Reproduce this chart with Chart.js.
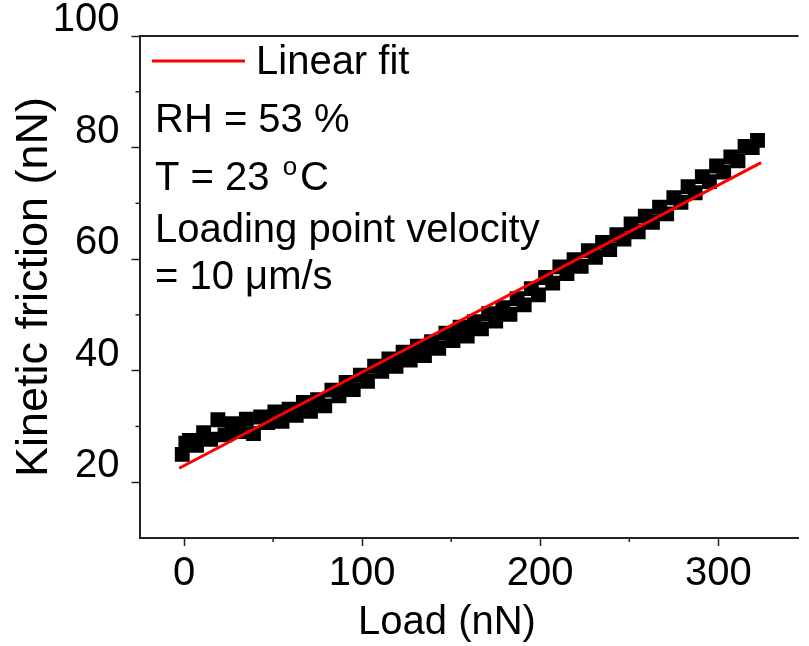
<!DOCTYPE html>
<html><head><meta charset="utf-8">
<script src="https://cdn.jsdelivr.net/npm/chart.js@4/dist/chart.umd.min.js"></script>
<style>html,body{margin:0;padding:0;background:#fff}#wrap{width:809px;height:646px;position:relative}</style>
</head><body><div id="wrap"><canvas id="c"></canvas></div>
<script>
// ---- data ----
const loadValues = [-1,1,3,7,11,15,19,23,27,31,35,39,43,47,51,55,59,63,67,71,75,79,83,87,91,95,99,103,107,111,115,119,123,127,131,135,139,143,147,151,155,159,163,167,171,175,179,183,187,191,195,199,203,207,211,215,219,223,227,231,235,239,243,247,251,255,259,263,267,271,275,279,283,287,291,295,299,303,307,311,315,319,322];
const frictionValues = [25.0,27.0,27.5,26.6,28.9,27.7,31.2,28.5,30.5,29.1,31.3,28.7,31.7,30.7,32.6,30.9,33.1,32.0,34.3,32.7,34.8,33.7,36.5,35.5,37.9,36.6,39.2,38.1,40.8,39.9,42.1,40.8,43.3,41.9,44.4,42.7,45.2,44.0,46.7,45.4,47.8,46.2,48.8,47.5,50.2,48.9,51.3,50.1,52.9,51.8,54.7,53.6,56.7,55.7,58.6,57.4,59.9,58.7,61.5,60.3,63.0,61.7,64.4,63.6,66.3,64.9,67.7,66.6,69.3,68.1,71.0,70.2,73.0,71.9,74.8,73.9,76.7,75.6,78.3,77.6,80.2,80.0,81.3];
const fitLoad = [-2.75, 324];
const fitFriction = [22.5, 77.3];
const xTickValues = [0, 100, 200, 300];
const xMinorValues = [50, 150, 250];
const yTickValues = [20, 40, 60, 80, 100];
const yMinorValues = [30, 50, 70, 90];
const xTitle = 'Load (nN)';
const yTitle = 'Kinetic friction (nN)';
const fitLabel = 'Linear fit';
const noteLines = ['RH = 53 %', 'T = 23 ', 'Loading point velocity', '= 10 μm/s'];

const FONT = "'Liberation Sans', Arial, sans-serif";
const AXIS_COLOR = '#222';

const extras = {
  id: 'extras',
  afterDraw(chart) {
    const ctx = chart.ctx, a = chart.chartArea;
    const xs = chart.scales.x, ys = chart.scales.y;
    ctx.save();
    ctx.strokeStyle = AXIS_COLOR; ctx.lineWidth = 2;
    // top frame line
    ctx.beginPath(); ctx.moveTo(a.left, a.top); ctx.lineTo(a.right, a.top); ctx.stroke();
    // minor ticks
    ctx.lineWidth = 1.5;
    xMinorValues.forEach(v => { const px = xs.getPixelForValue(v); ctx.beginPath(); ctx.moveTo(px, a.bottom); ctx.lineTo(px, a.bottom + 4); ctx.stroke(); });
    yMinorValues.forEach(v => { const py = ys.getPixelForValue(v); ctx.beginPath(); ctx.moveTo(a.left, py); ctx.lineTo(a.left - 4, py); ctx.stroke(); });
    // legend
    ctx.strokeStyle = '#ff0000'; ctx.lineWidth = 3;
    ctx.beginPath(); ctx.moveTo(152, 61); ctx.lineTo(245, 61); ctx.stroke();
    ctx.fillStyle = '#000'; ctx.font = '40px ' + FONT; ctx.textBaseline = 'alphabetic'; ctx.textAlign = 'left';
    ctx.fillText(fitLabel, 256, 74);
    // notes
    ctx.fillText(noteLines[0], 155, 132);
    ctx.fillText(noteLines[1], 155, 190);
    let w = ctx.measureText(noteLines[1]).width;
    ctx.font = '26px ' + FONT;
    ctx.fillText('o', 157 + w, 175);
    const wo = ctx.measureText('o').width;
    ctx.font = '40px ' + FONT;
    ctx.fillText('C', 157 + w + wo + 3, 190);
    ctx.fillText(noteLines[2], 155, 242);
    ctx.fillText(noteLines[3], 155, 289);
    // x title
    ctx.textAlign = 'center';
    ctx.fillText(xTitle, 447, 634);
    ctx.restore();
  }
};

new Chart(document.getElementById('c'), {
  type: 'scatter',
  data: {
    datasets: [
      { label: fitLabel, type: 'line', data: fitLoad.map((x, i) => ({x, y: fitFriction[i]})),
        borderColor: '#ff0000', borderWidth: 3, pointRadius: 0, fill: false, order: 0 },
      { label: 'data', data: loadValues.map((x, i) => ({x, y: frictionValues[i]})),
        pointStyle: 'rect', pointRadius: 10.5, backgroundColor: '#000', borderColor: '#000', borderWidth: 0, order: 1 }
    ]
  },
  options: {
    responsive: true, maintainAspectRatio: false, animation: false,
    layout: { padding: { top: 35, right: 0, left: 0, bottom: 0 } },
    plugins: { legend: { display: false }, tooltip: { enabled: false } },
    scales: {
      x: {
        type: 'linear', min: -25, max: 345,
        afterBuildTicks: s => { s.ticks = xTickValues.map(v => ({value: v})); },
        afterFit: s => { s.height = 108; },
        grid: { drawOnChartArea: false, drawTicks: true, tickLength: 8, tickColor: AXIS_COLOR, tickWidth: 1.5 },
        border: { display: true, color: AXIS_COLOR, width: 2 },
        ticks: { color: '#000', font: { family: FONT, size: 40 }, padding: 4, maxRotation: 0, autoSkip: false },
        title: { display: false }
      },
      y: {
        type: 'linear', min: 10, max: 100,
        afterBuildTicks: s => { s.ticks = yTickValues.map(v => ({value: v})); },
        afterFit: s => { s.width = 139.5; },
        grid: { drawOnChartArea: false, drawTicks: true, tickLength: 8, tickColor: AXIS_COLOR, tickWidth: 1.5 },
        border: { display: true, color: AXIS_COLOR, width: 2 },
        ticks: { color: '#000', font: { family: FONT, size: 40 }, padding: 12, labelOffset: -16, autoSkip: false },
        title: { display: true, text: yTitle, color: '#000', font: { family: FONT, size: 45 }, padding: { top: 8, bottom: 0 } }
      }
    }
  },
  plugins: [extras]
});
</script>
</body></html>
